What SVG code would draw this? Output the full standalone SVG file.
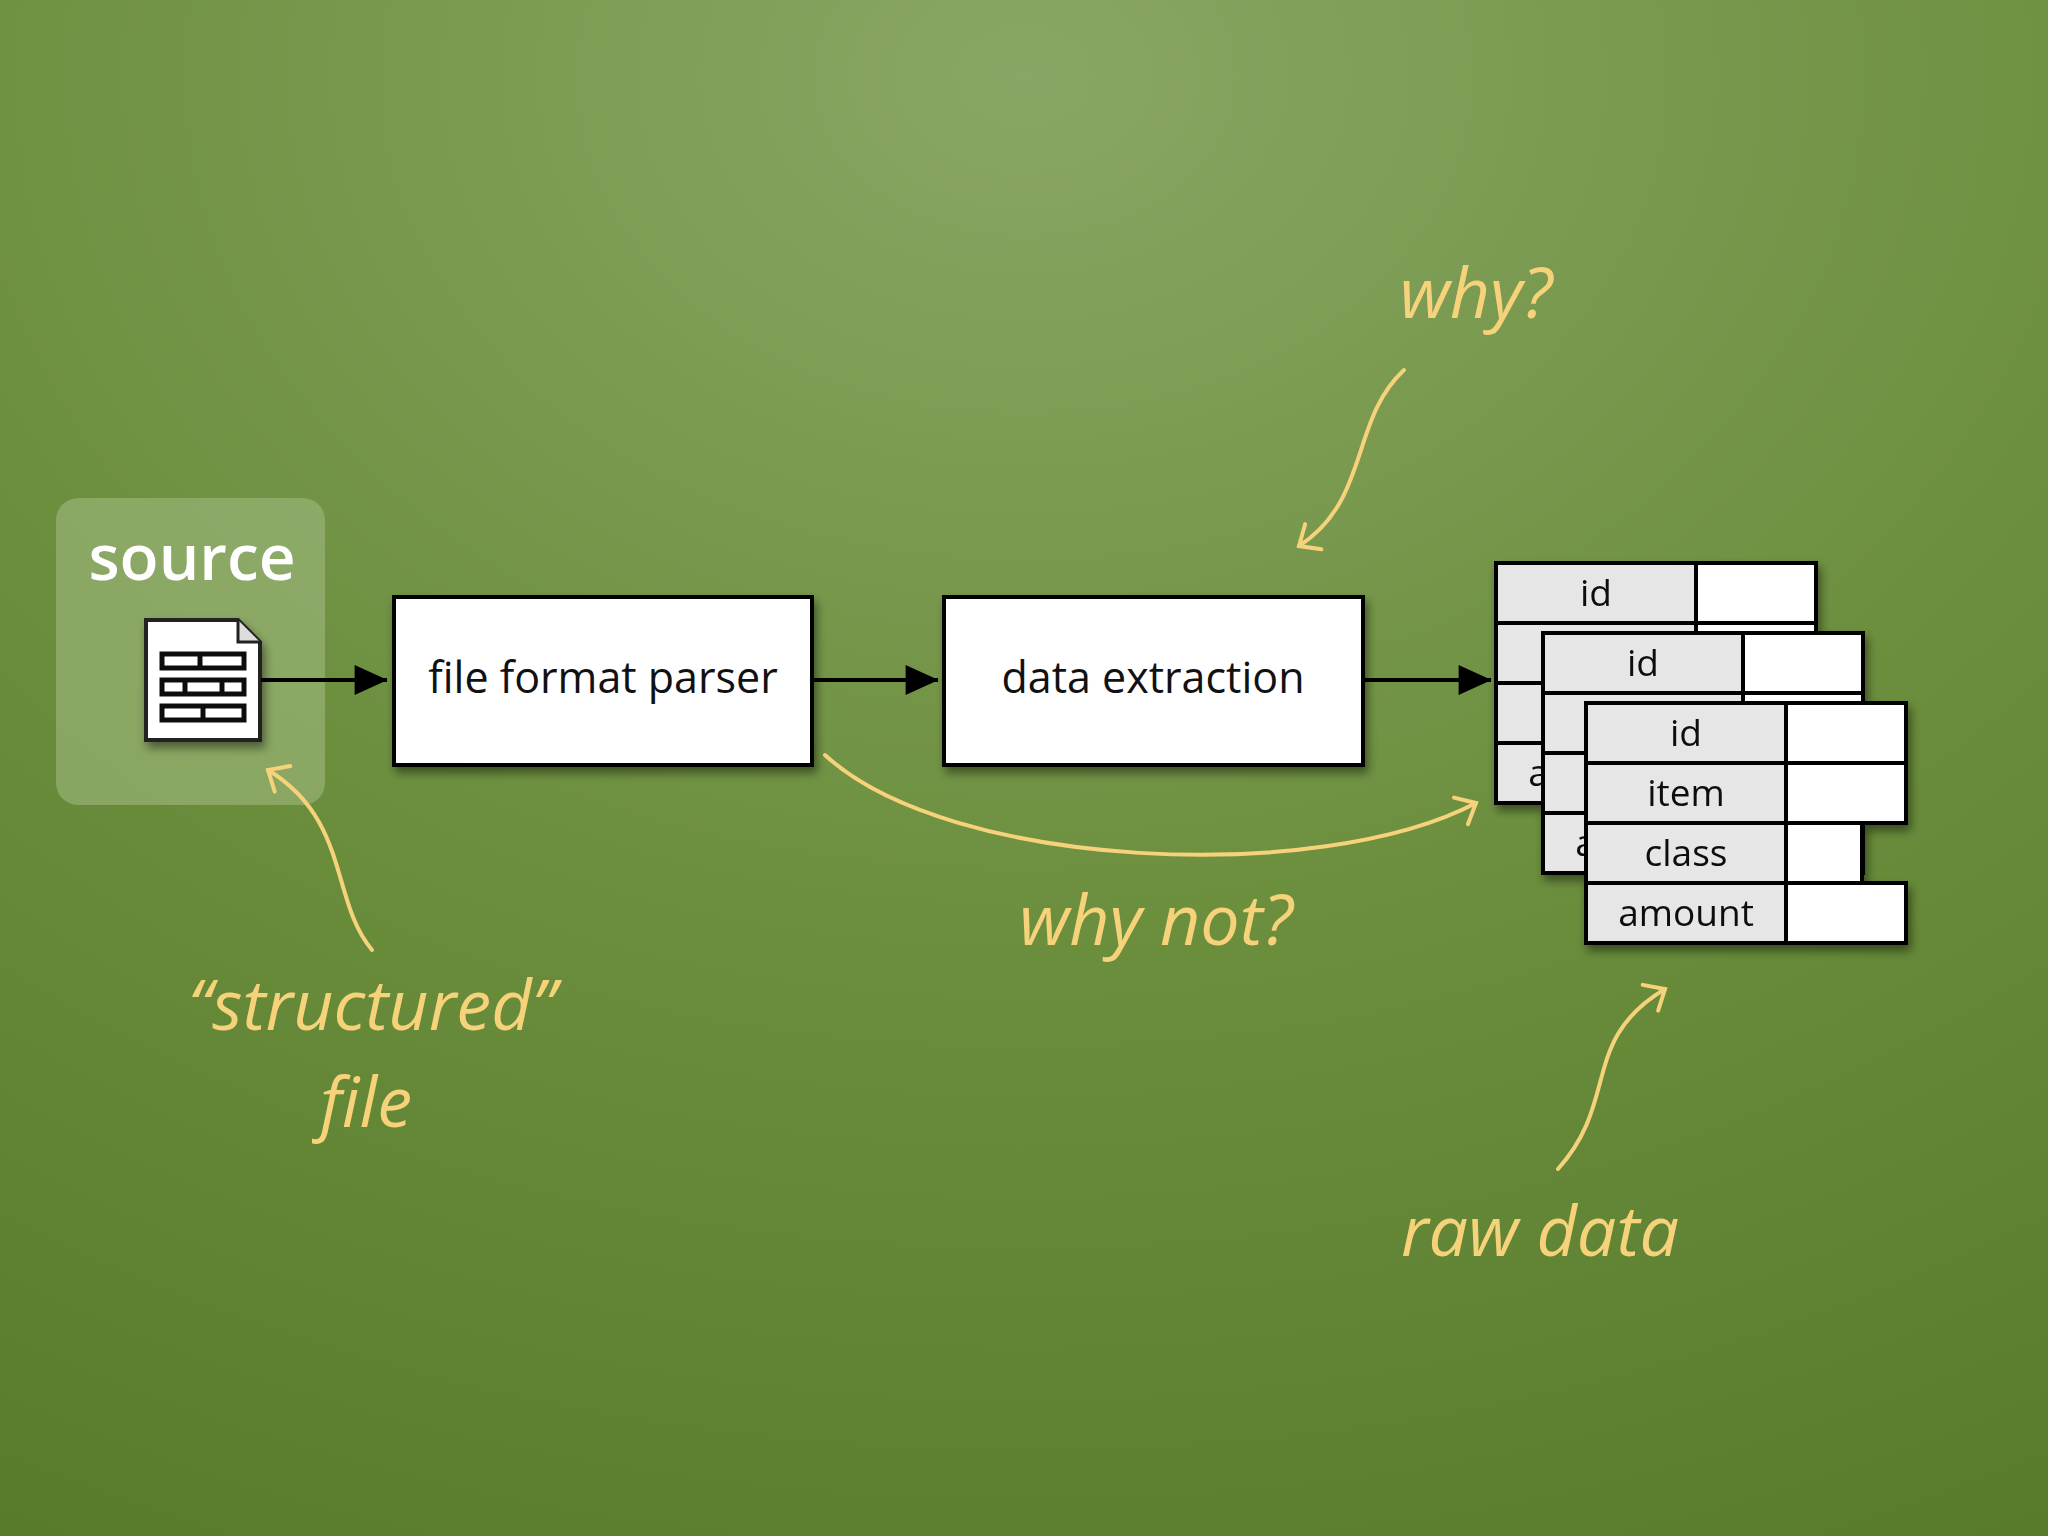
<svg xmlns="http://www.w3.org/2000/svg" width="2048" height="1536" viewBox="0 0 2048 1536">
<style>
.box{fill:#fff;stroke:#000;stroke-width:4}
.t{font-family:"Open Sans","Lato",sans-serif;fill:#111}
.lab{fill:#e6e6e6;stroke:#000;stroke-width:4}
.val{fill:#fff;stroke:#000;stroke-width:4}
.tt{font-family:"Open Sans",sans-serif;font-size:37px;fill:#111;text-anchor:middle}
.ann{font-family:"Open Sans","Lato",sans-serif;font-style:italic;fill:#f6d27a;text-anchor:middle}
.cur{fill:none;stroke:#f6d27a;stroke-width:4;stroke-linecap:round}
.con{stroke:#000;stroke-width:4;fill:none}
</style>
<defs>
<radialGradient id="bg" cx="0.5" cy="0.05" r="1.1">
<stop offset="0" stop-color="#8aa664"/><stop offset="0.5" stop-color="#6c8f3e"/><stop offset="1" stop-color="#567a2a"/>
</radialGradient>
<marker id="ah" viewBox="0 0 10 10" refX="9" refY="5" markerWidth="6" markerHeight="6" orient="auto" markerUnits="userSpaceOnUse" overflow="visible"><path d="M-45,-20 L10,5 L-45,30 Z" fill="#000"/></marker>
<marker id="ya" viewBox="0 0 10 10" refX="5" refY="5" markerWidth="10" markerHeight="10" orient="auto" markerUnits="userSpaceOnUse" overflow="visible"><path d="M-12,-10 L5,5 L-12,20" fill="none" stroke="#f6d27a" stroke-width="4" stroke-linecap="round"/></marker>
<filter id="sh" x="-10%" y="-10%" width="130%" height="130%"><feDropShadow dx="3" dy="6" stdDeviation="5" flood-opacity="0.45"/></filter>
<g id="tbl">
<rect class="lab" x="0" y="0" width="200" height="60"/><rect class="val" x="200" y="0" width="120" height="60"/>
<rect class="lab" x="0" y="60" width="200" height="60"/><rect class="val" x="200" y="60" width="120" height="60"/>
<rect class="lab" x="0" y="120" width="200" height="60"/><rect class="val" x="200" y="120" width="76" height="60"/>
<rect class="lab" x="0" y="180" width="200" height="60"/><rect class="val" x="200" y="180" width="120" height="60"/>
<text class="tt" x="100" y="43">id</text><text class="tt" x="100" y="103">item</text>
<text class="tt" x="100" y="163">class</text><text class="tt" x="100" y="223">amount</text>
</g>
</defs>
<rect width="2048" height="1536" fill="url(#bg)"/>
<g id="source">
<rect x="56" y="498" width="269" height="307" rx="22" fill="#a9c08a" fill-opacity="0.5"/>
<text x="192" y="580" font-family="Open Sans,sans-serif" font-size="64" font-weight="600" fill="#fff" text-anchor="middle">source</text>
<g filter="url(#sh)">
<path d="M146,620 L238,620 L260,642 L260,740 L146,740 Z" fill="#fff" stroke="#222" stroke-width="4"/>
<path d="M238,620 L238,642 L260,642" fill="#ddd" stroke="#222" stroke-width="3"/>
<g fill="none" stroke="#111" stroke-width="5">
<rect x="162" y="654" width="82" height="14"/><rect x="162" y="680" width="82" height="14"/><rect x="162" y="706" width="82" height="14"/>
<line x1="200" y1="654" x2="200" y2="668"/><line x1="185" y1="680" x2="185" y2="694"/><line x1="222" y1="680" x2="222" y2="694"/><line x1="203" y1="706" x2="203" y2="720"/>
</g></g>
</g>
<g id="parser"><rect class="box" x="394" y="597" width="418" height="168" filter="url(#sh)"/>
<text class="t" x="603" y="693" font-size="43" text-anchor="middle">file format parser</text></g>
<g id="extraction"><rect class="box" x="944" y="597" width="419" height="168" filter="url(#sh)"/>
<text class="t" x="1153" y="693" font-size="43" text-anchor="middle">data extraction</text></g>
<g id="rawdata" filter="url(#sh)">
<use href="#tbl" x="1496" y="563"/><use href="#tbl" x="1543" y="633"/><use href="#tbl" x="1586" y="703"/>
</g>
<g id="connectors">
<line class="con" x1="261" y1="680" x2="387" y2="680" marker-end="url(#ah)"/>
<line class="con" x1="812" y1="680" x2="938" y2="680" marker-end="url(#ah)"/>
<line class="con" x1="1363" y1="680" x2="1491" y2="680" marker-end="url(#ah)"/>
<path class="cur" d="M825,755 C950,870 1320,885 1476,803" marker-end="url(#ya)"/>
<path class="cur" d="M1404,370 C1350,420 1370,500 1299,546" marker-end="url(#ya)"/>
<path class="cur" d="M372,950 C330,900 350,820 268,770" marker-end="url(#ya)"/>
<path class="cur" d="M1558,1169 C1620,1100 1580,1040 1665,989" marker-end="url(#ya)"/>
</g>
<g id="annotations">
<text class="ann" x="1476" y="318" font-size="70">why?</text>
<text class="ann" x="1156" y="945" font-size="70">why not?</text>
<text class="ann" x="372" y="1030" font-size="70">“structured”</text>
<text class="ann" x="366" y="1127" font-size="70">file</text>
<text class="ann" x="1540" y="1256" font-size="70">raw data</text>
</g>
</svg>
